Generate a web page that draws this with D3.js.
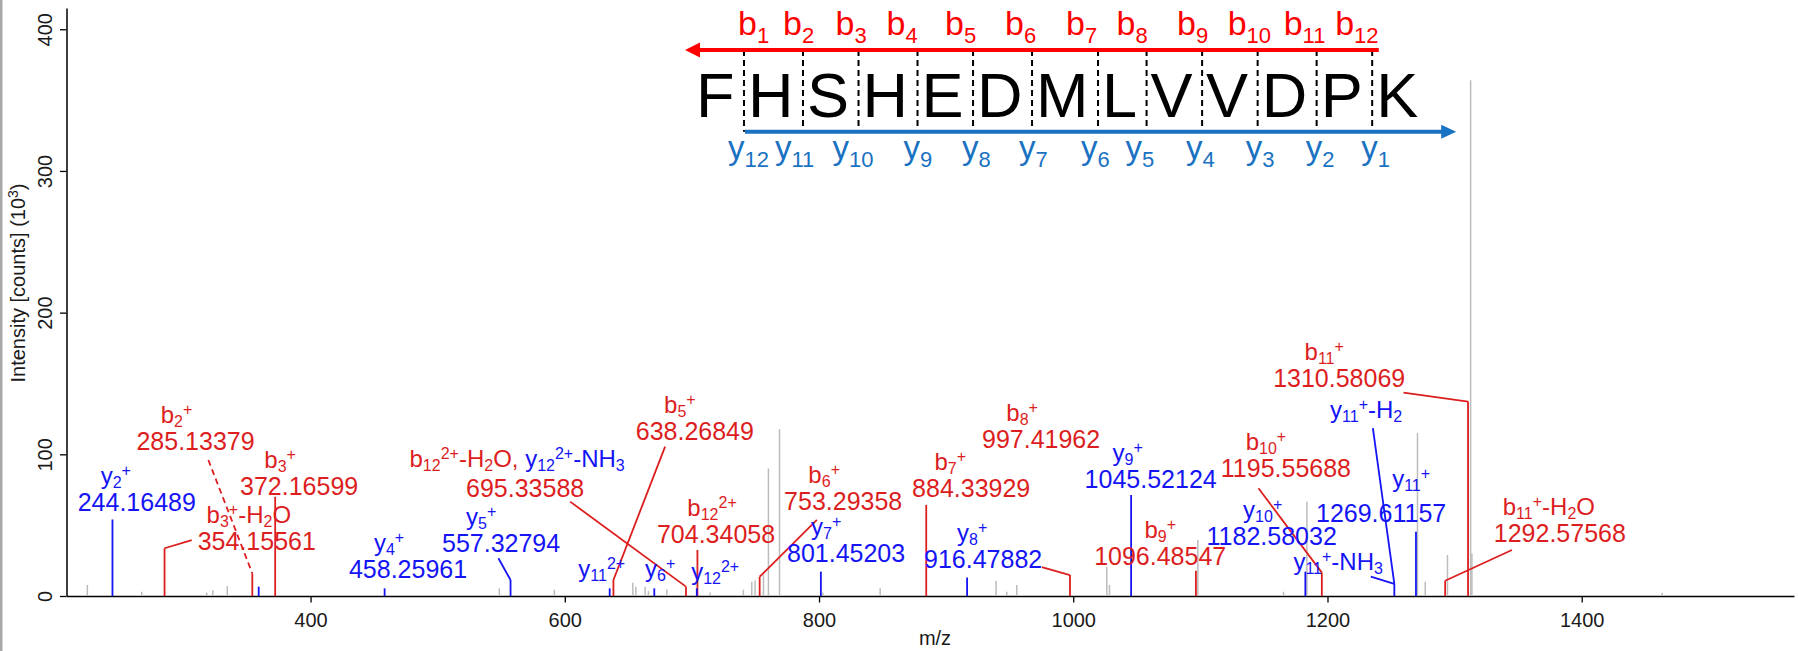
<!DOCTYPE html>
<html>
<head>
<meta charset="utf-8">
<script src="https://cdn.jsdelivr.net/npm/d3@7"></script>
<style>
  body { margin: 0; background: #fff; }
  svg { display: block; font-family: "Liberation Sans", Arial, sans-serif; }
  text { white-space: pre; }
</style>
</head>
<body>
<svg id="drawing_region"></svg>
<script>
// unannotated peaks (grey)
const grayMz  = [224.4, 267.2, 318.3, 323.1, 334.5, 548.5, 591.8, 653.5, 655.9, 663.2, 665.8, 680.3, 714.3,
                 740.5, 747.1, 749.7, 756.3, 760.2, 768.9, 803.0, 848.1, 939.3, 947.7, 955.6, 1026.4, 1028.5,
                 1098.0, 1165.4, 1183.8, 1270.8, 1276.9, 1294.4, 1312.6, 1313.6, 1463.3];
const grayInt = [7.8, 3.0, 2.4, 4.0, 7.0, 5.4, 4.5, 9.4, 6.6, 6.6, 3.5, 4.5, 2.5,
                 4.5, 10.0, 11.0, 14.8, 90.0, 117.7, 2.5, 5.4, 10.8, 3.0, 7.8, 20.7, 7.8,
                 39.5, 3.0, 66.6, 115.0, 10.0, 29.0, 364.0, 30.0, 2.3];

// b ions (red)
const bMz  = [285.13, 354.16, 372.17, 638.27, 695.34, 704.34, 753.29, 884.34, 997.42, 1096.49, 1195.56, 1292.58, 1310.58];
const bInt = [33.7, 16.0, 70.0, 11.3, 6.6, 32.5, 13.6, 64.3, 14.8, 17.9, 16.5, 10.8, 137.2];

// y ions (blue)
const yMz  = [244.16, 359.19, 458.26, 557.33, 635.31, 670.41, 703.84, 801.45, 916.48, 1045.52, 1182.58, 1252.59, 1269.61];
const yInt = [54.0, 6.6, 5.4, 11.3, 5.4, 5.4, 5.4, 17.2, 13.0, 71.3, 17.2, 8.5, 45.4];

// annotations
const annName = ["y_{2}^{+}", "b_{2}^{+}", "b_{3}^{+}", "b_{3}^{+}-H_{2}O", "y_{4}^{+}", "y_{5}^{+}", "b_{5}^{+}",
  [["b_{12}^{2+}-H_{2}O, ", "b"], ["y_{12}^{2+}-NH_{3}", "y"]],
  "y_{11}^{2+}", "y_{6}^{+}", "y_{12}^{2+}", "b_{12}^{2+}", "b_{6}^{+}", "y_{7}^{+}", "b_{7}^{+}", "y_{8}^{+}",
  "b_{8}^{+}", "y_{9}^{+}", "b_{9}^{+}", "b_{10}^{+}", "y_{10}^{+}", "y_{11}^{+}-NH_{3}", "y_{11}^{+}-H_{2}",
  "y_{11}^{+}", "b_{11}^{+}-H_{2}O", "b_{11}^{+}"];
const annValue = ["244.16489", "285.13379", "372.16599", "354.15561", "458.25961", "557.32794", "638.26849",
  "695.33588", null, null, null, "704.34058", "753.29358", "801.45203", "884.33929", "916.47882",
  "997.41962", "1045.52124", "1096.48547", "1195.55688", "1182.58032", null, null,
  "1269.61157", "1292.57568", "1310.58069"];
const annSeries = ["y","b","b","b","y","y","b","b","y","y","y","b","b","y","b","y","b","y","b","b","y","y","y","y","b","b"];
const annPeak = [244.16, 354.16, 372.17, 285.13, 458.26, 557.33, 638.27, 695.34, 635.31, 670.41, 703.84, 704.34,
  753.29, 801.45, 884.34, 916.48, 997.42, 1045.52, 1096.49, 1195.56, 1182.58, 1252.59, 1252.59, 1269.61,
  1292.58, 1310.58];

// label placement in data units: [label m/z, label intensity, name dx(px), leader m/z, leader intensity, dashed, name gap]
const annLayout = [
  [263.3, 60.2, -21], [309.5, 103.1, -19, 319.6, 96.0, true], [391.0, 71.3, -19],
  [357.7, 32.5, -8, 306.5, 39.5], [476.7, 12.5, -19], [549.9, 31.3, -20, 547.8, 26.6],
  [702.3, 110.1, -15, 678.9, 105.4], [568.8, 70.1, -8, 604.2, 66.6, false, 30],
  [629.1, 13.6, 0], [675.0, 13.6, 0], [718.3, 11.3, 0], [719.0, 37.2, -4],
  [819.0, 60.7, -19, 798.3, 53.7], [821.3, 24.2, -20], [919.7, 70.1, -21], [929.1, 19.6, -11],
  [974.7, 104.3, -19, 975.3, 20.3], [1060.9, 76.0, -23], [1068.4, 21.9, 0],
  [1167.3, 84.2, -20, 1145.7, 76.0], [1156.1, 36.0, -9], [1208.4, 18.4, 0, 1234.1, 13.6],
  [1230.4, 125.4, 0, 1235.7, 118.4], [1242.2, 52.2, 30, null, null, false, 35],
  [1382.8, 38.3, -11, 1345.1, 32.5], [1209.2, 147.5, -15, 1259.8, 143.5]
];

// peptide
const sequence = "FHSHEDMLVVDPK".split("");
// label shifts (px) from each cleavage line, b labels above and y labels below
const bShift = [-6, -20, -23, -31, -28, -27, -32, -30, -25, -30, -33, -37];
const yShift = [-16, -28, -26, -14, -11, -13, -17, -21, -16, -12, -11, -11];

const xTicks = [400, 600, 800, 1000, 1200, 1400];
const yTicks = [0, 100, 200, 300, 400];

const W = 1798, H = 651;
const RED = "#dc1e1e", BLUE = "#1414f5", GREY = "#bcbcbc";
const SEQ_RED = "#ff0000", SEQ_BLUE = "#1a72c2";

const svg = d3.select("#drawing_region").attr("width", W).attr("height", H);

svg.append("rect").attr("x", 0).attr("y", 0).attr("width", 2.5).attr("height", H).attr("fill", "#a8a8a8");

const x = d3.scaleLinear().domain([208, 1567]).range([66.5, 1794]);
const y = d3.scaleLinear().domain([0, 415]).range([596, 8]);

// rich text with _{sub} and ^{sup}
function rich(sel, str, o, color) {
  const re = /([_^])\{([^}]*)\}|([^_^]+)/g;
  let m;
  while ((m = re.exec(str))) {
    let target = 0, size = o.size, txt = m[3];
    if (m[1]) { txt = m[2]; size = o.small; target = m[1] === "_" ? o.sub : o.sup; }
    const t = sel.append("tspan").attr("dy", target - o.shift).attr("font-size", size).text(txt);
    if (color) t.attr("fill", color);
    o.shift = target;
  }
}

// axes
const gx = svg.append("g").attr("transform", `translate(0,${y(0)})`);
gx.call(d3.axisBottom(x).tickValues(d3.range(250, 1567, 50)).tickSize(4).tickFormat("").tickSizeOuter(0))
  .select(".domain").remove();
gx.call(d3.axisBottom(x).tickValues(xTicks).tickSize(6.5).tickSizeOuter(0).tickPadding(10).tickFormat(d3.format("d")));
gx.select(".domain").attr("stroke-width", 1.5);
gx.selectAll(".tick line").attr("stroke-width", 1.3);
gx.selectAll("text").attr("font-size", 20).attr("font-family", "Liberation Sans, Arial, sans-serif").attr("fill", "#1a1a1a");

const gy = svg.append("g").attr("transform", `translate(${x.range()[0]},0)`);
gy.call(d3.axisLeft(y).tickValues(d3.range(0, 415, 20)).tickSize(4).tickFormat("").tickSizeOuter(0))
  .select(".domain").remove();
gy.call(d3.axisLeft(y).tickValues(yTicks).tickSize(6.5).tickSizeOuter(0).tickFormat(d3.format("d")));
gy.select(".domain").attr("stroke-width", 1.5);
gy.selectAll(".tick line").attr("stroke-width", 1.3);
gy.selectAll("text")
  .attr("x", 0).attr("dy", 0)
  .attr("text-anchor", "middle")
  .attr("transform", "translate(-15,0) rotate(-90)")
  .attr("font-size", 20).attr("font-family", "Liberation Sans, Arial, sans-serif").attr("fill", "#1a1a1a");

svg.append("text").attr("x", 935).attr("y", 645)
  .attr("text-anchor", "middle").attr("font-size", 20).attr("fill", "#1a1a1a").text("m/z");

const yt = svg.append("text").attr("transform", "translate(25,283) rotate(-90)")
  .attr("text-anchor", "middle").attr("fill", "#1a1a1a");
rich(yt, "Intensity [counts] (10^{3})", { size: 20, small: 14, sub: 4, sup: -7, shift: 0 });

// peaks
function peaks(mz, inten, color, w) {
  svg.append("g").selectAll("line").data(mz).join("line")
    .attr("x1", d => x(d)).attr("x2", d => x(d))
    .attr("y1", y(0)).attr("y2", (d, i) => y(inten[i]))
    .attr("stroke", color).attr("stroke-width", w);
}
peaks(grayMz, grayInt, GREY, 1.5);
peaks(bMz, bInt, RED, 1.8);
peaks(yMz, yInt, BLUE, 1.8);

// annotations
const peakInt = new Map();
bMz.forEach((d, i) => peakInt.set(d, bInt[i]));
yMz.forEach((d, i) => peakInt.set(d, yInt[i]));

const ann = svg.append("g");
annName.forEach((name, i) => {
  const [lm, li, dx, pm, pi, dashed, gap] = annLayout[i];
  const col = annSeries[i] === "b" ? RED : BLUE;
  const cx = x(lm), base = y(li);
  if (pm != null) {
    const p = annPeak[i];
    ann.append("line")
      .attr("x1", x(pm)).attr("y1", y(pi))
      .attr("x2", x(p)).attr("y2", y(peakInt.get(p)))
      .attr("stroke", col).attr("stroke-width", 1.8)
      .attr("stroke-dasharray", dashed ? "6,4" : null);
  }
  let nameY = base;
  if (annValue[i]) {
    ann.append("text").attr("x", cx).attr("y", base).attr("text-anchor", "middle")
      .attr("font-size", 25).attr("fill", col).text(annValue[i]);
    nameY = base - (gap || 27);
  }
  const t = ann.append("text").attr("x", cx + (annValue[i] ? dx : 0)).attr("y", nameY)
    .attr("text-anchor", "middle").attr("fill", col);
  const o = { size: 24, small: 16, sub: 4, sup: -8, shift: 0 };
  if (Array.isArray(name)) name.forEach(seg => rich(t, seg[0], o, seg[1] === "b" ? RED : BLUE));
  else rich(t, name, o);
});

// peptide sequence header
const seqX0 = 696, seqBase = 117, seqGap = 13.5;
const hdr = svg.append("g");
const starts = [];
let cxs = seqX0;
sequence.forEach(ch => {
  const t = hdr.append("text").attr("x", cxs).attr("y", seqBase).attr("font-size", 63).attr("fill", "#000").text(ch);
  starts.push(cxs);
  cxs += t.node().getComputedTextLength() + seqGap;
});
const dividers = starts.slice(1).map(s => s - 4);
const redY = 50, blueY = 131.7;

hdr.selectAll("line.div").data(dividers).join("line").attr("class", "div")
  .attr("x1", d => d).attr("x2", d => d).attr("y1", redY).attr("y2", blueY)
  .attr("stroke", "#000").attr("stroke-width", 2).attr("stroke-dasharray", "6,4");

const first = dividers[0], last = dividers[dividers.length - 1];
hdr.append("line").attr("x1", first - 45).attr("x2", last + 6.6).attr("y1", redY).attr("y2", redY)
  .attr("stroke", SEQ_RED).attr("stroke-width", 4);
hdr.append("path").attr("d", `M${first - 59},${redY} L${first - 44},${redY - 7.5} L${first - 44},${redY + 7.5} Z`)
  .attr("fill", SEQ_RED);
hdr.append("line").attr("x1", first + 1).attr("x2", last + 71).attr("y1", blueY).attr("y2", blueY)
  .attr("stroke", SEQ_BLUE).attr("stroke-width", 4);
hdr.append("path").attr("d", `M${last + 84},${blueY} L${last + 69},${blueY - 7} L${last + 69},${blueY + 7} Z`)
  .attr("fill", SEQ_BLUE);

dividers.forEach((d, i) => {
  const tb = hdr.append("text").attr("x", d + bShift[i]).attr("y", 35).attr("fill", SEQ_RED);
  rich(tb, `b_{${i + 1}}`, { size: 34, small: 22, sub: 8, sup: -8, shift: 0 });
  const ty = hdr.append("text").attr("x", d + yShift[i]).attr("y", 159).attr("fill", SEQ_BLUE);
  rich(ty, `y_{${12 - i}}`, { size: 33, small: 22, sub: 8, sup: -8, shift: 0 });
});
</script>
</body>
</html>
